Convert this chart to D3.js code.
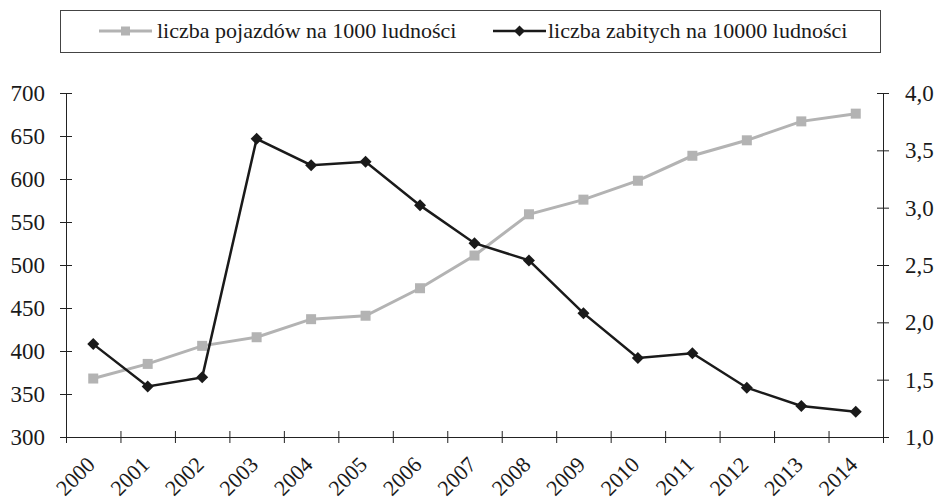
<!DOCTYPE html>
<html>
<head>
<meta charset="utf-8">
<script src="https://cdn.jsdelivr.net/npm/d3@7"></script>
<style>
  body { margin: 0; background: #fff; }
  svg { display: block; }
  text { font-family: "Liberation Serif", "Times New Roman", "DejaVu Serif", serif; }
</style>
</head>
<body>
<svg width="935" height="501"></svg>
<script>
// data
var years = ['2000', '2001', '2002', '2003', '2004', '2005', '2006', '2007',
             '2008', '2009', '2010', '2011', '2012', '2013', '2014'];
var vehicles = [368, 385, 406, 416, 437, 441, 473, 511, 559, 576, 598, 627, 645, 667, 676];
var killed = [1.81, 1.44, 1.52, 3.60, 3.37, 3.40, 3.02, 2.69, 2.54, 2.08, 1.69, 1.73, 1.43, 1.27, 1.22];
var leftTicks = [300, 350, 400, 450, 500, 550, 600, 650, 700];
var rightTicks = [1.0, 1.5, 2.0, 2.5, 3.0, 3.5, 4.0];
var seriesNames = ['liczba pojazdów na 1000 ludności', 'liczba zabitych na 10000 ludności'];

var fontFamily = '"Liberation Serif", "Times New Roman", "DejaVu Serif", serif';
var grayColor = '#b3b3b3';
var darkColor = '#1a1a1a';
var axisColor = '#222';

var svg = d3.select('svg');
var plot = { left: 66, right: 883, top: 93, bottom: 437 };

var x = d3.scaleBand().domain(years).range([plot.left, plot.right]);
var xEdges = d3.scaleLinear().domain([0, years.length]).range([plot.left, plot.right]);
var yLeft = d3.scaleLinear().domain([300, 700]).range([plot.bottom, plot.top]);
var yRight = d3.scaleLinear().domain([1, 4]).range([plot.bottom, plot.top]);

var plLocale = d3.formatLocale({ decimal: ',', thousands: ' ', grouping: [3], currency: ['', ' zł'] });
var fmtRight = plLocale.format('.1f');

// axes
function styleAxis(g) {
    g.attr('font-family', fontFamily).attr('font-size', 23);
    g.selectAll('.domain').attr('stroke', axisColor).attr('stroke-width', 1);
    g.selectAll('.tick line').attr('stroke', axisColor).attr('stroke-width', 1);
    g.selectAll('.tick text').attr('fill', '#1a1a1a');
}

var gLeft = svg.append('g').attr('transform', 'translate(' + plot.left + ',0)')
    .call(d3.axisLeft(yLeft).tickValues(leftTicks).tickSize(6).tickSizeOuter(0).tickPadding(15));
gLeft.selectAll('.tick line').attr('x1', 6);
styleAxis(gLeft);

var gRight = svg.append('g').attr('transform', 'translate(' + plot.right + ',0)')
    .call(d3.axisRight(yRight).tickValues(rightTicks).tickFormat(fmtRight).tickSize(6).tickSizeOuter(0).tickPadding(16));
gRight.selectAll('.tick line').attr('x1', -6);
styleAxis(gRight);

var gBottom = svg.append('g').attr('transform', 'translate(0,' + plot.bottom + ')')
    .call(d3.axisBottom(xEdges).tickValues(d3.range(years.length + 1)).tickFormat('').tickSize(6).tickSizeOuter(0));
gBottom.selectAll('.tick line').attr('y1', -6);
styleAxis(gBottom);

svg.append('g').attr('font-family', fontFamily).attr('font-size', 22)
    .selectAll('text').data(years).enter().append('text')
    .attr('transform', d => 'translate(' + (x(d) + x.bandwidth() / 2 + 3) + ',' + (plot.bottom + 29) + ') rotate(-45)')
    .attr('text-anchor', 'end')
    .attr('fill', '#1a1a1a')
    .text(d => d);

// series
var vehicleLine = d3.line().x((d, i) => x(years[i]) + x.bandwidth() / 2).y(d => yLeft(d));
var killedLine = d3.line().x((d, i) => x(years[i]) + x.bandwidth() / 2).y(d => yRight(d));

svg.append('path').datum(vehicles).attr('d', vehicleLine)
    .attr('fill', 'none').attr('stroke', grayColor).attr('stroke-width', 3);
svg.append('g').selectAll('path').data(vehicles).enter().append('path')
    .attr('d', d3.symbol().type(d3.symbolSquare).size(100))
    .attr('transform', (d, i) => 'translate(' + (x(years[i]) + x.bandwidth() / 2) + ',' + yLeft(d) + ')')
    .attr('fill', grayColor);

svg.append('path').datum(killed).attr('d', killedLine)
    .attr('fill', 'none').attr('stroke', darkColor).attr('stroke-width', 2.5);
svg.append('g').selectAll('path').data(killed).enter().append('path')
    .attr('d', d3.symbol().type(d3.symbolSquare).size(72))
    .attr('transform', (d, i) => 'translate(' + (x(years[i]) + x.bandwidth() / 2) + ',' + yRight(d) + ') rotate(45)')
    .attr('fill', darkColor);

// legend
var legend = svg.append('g').attr('font-family', fontFamily).attr('font-size', 22);
legend.append('rect').attr('x', 60.5).attr('y', 10.5).attr('width', 820).attr('height', 42)
    .attr('fill', '#fff').attr('stroke', '#444').attr('stroke-width', 1);

var legendItems = [
    { name: seriesNames[0], x0: 99, x1: 152, tx: 157, color: grayColor, width: 3, shape: 'square' },
    { name: seriesNames[1], x0: 493, x1: 546, tx: 548, color: darkColor, width: 2.5, shape: 'diamond' }
];
var ly = 31;
legendItems.forEach(function (it) {
    legend.append('line').attr('x1', it.x0).attr('x2', it.x1).attr('y1', ly).attr('y2', ly)
        .attr('stroke', it.color).attr('stroke-width', it.width);
    legend.append('path')
        .attr('d', d3.symbol().type(d3.symbolSquare).size(it.shape === 'square' ? 81 : 60))
        .attr('transform', 'translate(' + ((it.x0 + it.x1) / 2) + ',' + ly + ')' + (it.shape === 'diamond' ? ' rotate(45)' : ''))
        .attr('fill', it.color);
    legend.append('text').attr('x', it.tx).attr('y', ly + 7)
        .attr('fill', '#1a1a1a').text(it.name);
});
</script>
</body>
</html>
